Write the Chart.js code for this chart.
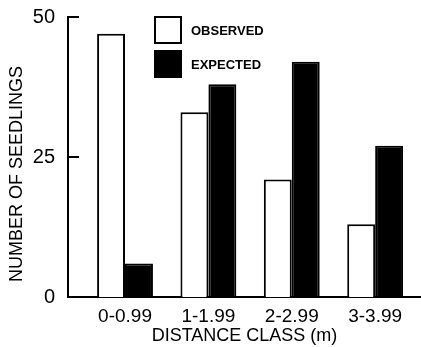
<!DOCTYPE html>
<html>
<head>
<meta charset="utf-8">
<script src="https://cdn.jsdelivr.net/npm/chart.js@4"></script>
<style>
  html, body { margin:0; padding:0; background:#fff; }
  #wrap { width:421px; height:347px; }
</style>
</head>
<body>
<div id="wrap"><canvas id="chart"></canvas></div>
<script>
const categories = ['0-0.99', '1-1.99', '2-2.99', '3-3.99'];
const observed = [47, 33, 21, 13];
const expected = [6, 38, 42, 27];
const yTicks = [0, 25, 50];
const yTitle = 'NUMBER OF SEEDLINGS';
const xTitle = 'DISTANCE CLASS (m)';

const FONT = "'Liberation Sans', Arial, sans-serif";

// inward tick marks, rotated y title and the little legend
const extras = {
  id: 'extras',
  afterDraw(chart){
    const ctx = chart.ctx;
    const y = chart.scales.y;
    const left = chart.chartArea.left;
    ctx.save();
    ctx.strokeStyle = '#000';
    ctx.lineWidth = 2;
    yTicks.forEach(v => {
      if (v === 0) return;
      const py = Math.round(y.getPixelForValue(v));
      ctx.beginPath(); ctx.moveTo(left - 1, py); ctx.lineTo(left + 11, py); ctx.stroke();
    });

    ctx.fillStyle = '#000';
    ctx.font = '18px ' + FONT;
    ctx.textAlign = 'center';
    ctx.textBaseline = 'middle';
    ctx.translate(17, 174);
    ctx.rotate(-Math.PI / 2);
    ctx.fillText(yTitle, 0, 0);
    ctx.restore();

    ctx.save();
    const ds = chart.data.datasets;
    ctx.lineWidth = 2;
    ctx.strokeStyle = '#000';
    ctx.font = 'bold 13px ' + FONT;
    ctx.textBaseline = 'middle';
    ds.forEach((d, i) => {
      const by = 17 + i * 34;
      ctx.fillStyle = d.backgroundColor;
      ctx.fillRect(155, by, 26, 26);
      ctx.strokeRect(155, by, 26, 26);
      ctx.fillStyle = '#000';
      ctx.fillText(d.label, 191, by + 14);
    });
    ctx.restore();
  }
};

new Chart(document.getElementById('chart'), {
  type: 'bar',
  data: {
    datasets: [
      { label: 'OBSERVED', data: observed.map((v, i) => ({ x: i, y: v })),
        backgroundColor: '#fff', borderColor: '#000', borderWidth: 2 },
      { label: 'EXPECTED', data: expected.map((v, i) => ({ x: i, y: v })),
        backgroundColor: '#000', borderColor: '#000', borderWidth: 2 }
    ]
  },
  options: {
    responsive: true,
    maintainAspectRatio: false,
    animation: false,
    layout: { padding: { top: 16, right: 0, left: 0, bottom: 0 } },
    datasets: { bar: { categoryPercentage: 0.67, barPercentage: 1.0 } },
    plugins: { legend: { display: false }, tooltip: { enabled: false } },
    scales: {
      x: {
        type: 'linear',
        offset: false,
        min: -0.684,
        max: 3.55,
        grid: { display: false, offset: false },
        border: { color: '#000', width: 2 },
        afterBuildTicks: s => { s.ticks = categories.map((c, i) => ({ value: i })); },
        afterFit: s => { s.height = 50; },
        ticks: { color: '#000', font: { family: FONT, size: 19 }, padding: 0,
                 maxRotation: 0, autoSkip: false,
                 callback: v => categories[v] ?? '' },
        title: { display: true, text: xTitle, color: '#000',
                 font: { family: FONT, size: 18 }, padding: 0 }
      },
      y: {
        min: 0,
        max: 50,
        grid: { display: false },
        border: { color: '#000', width: 2 },
        afterBuildTicks: s => { s.ticks = yTicks.map(v => ({ value: v })); },
        afterFit: s => { s.width = 68; },
        ticks: { color: '#000', font: { family: FONT, size: 20 }, padding: 5 }
      }
    }
  },
  plugins: [extras]
});
</script>
</body>
</html>
